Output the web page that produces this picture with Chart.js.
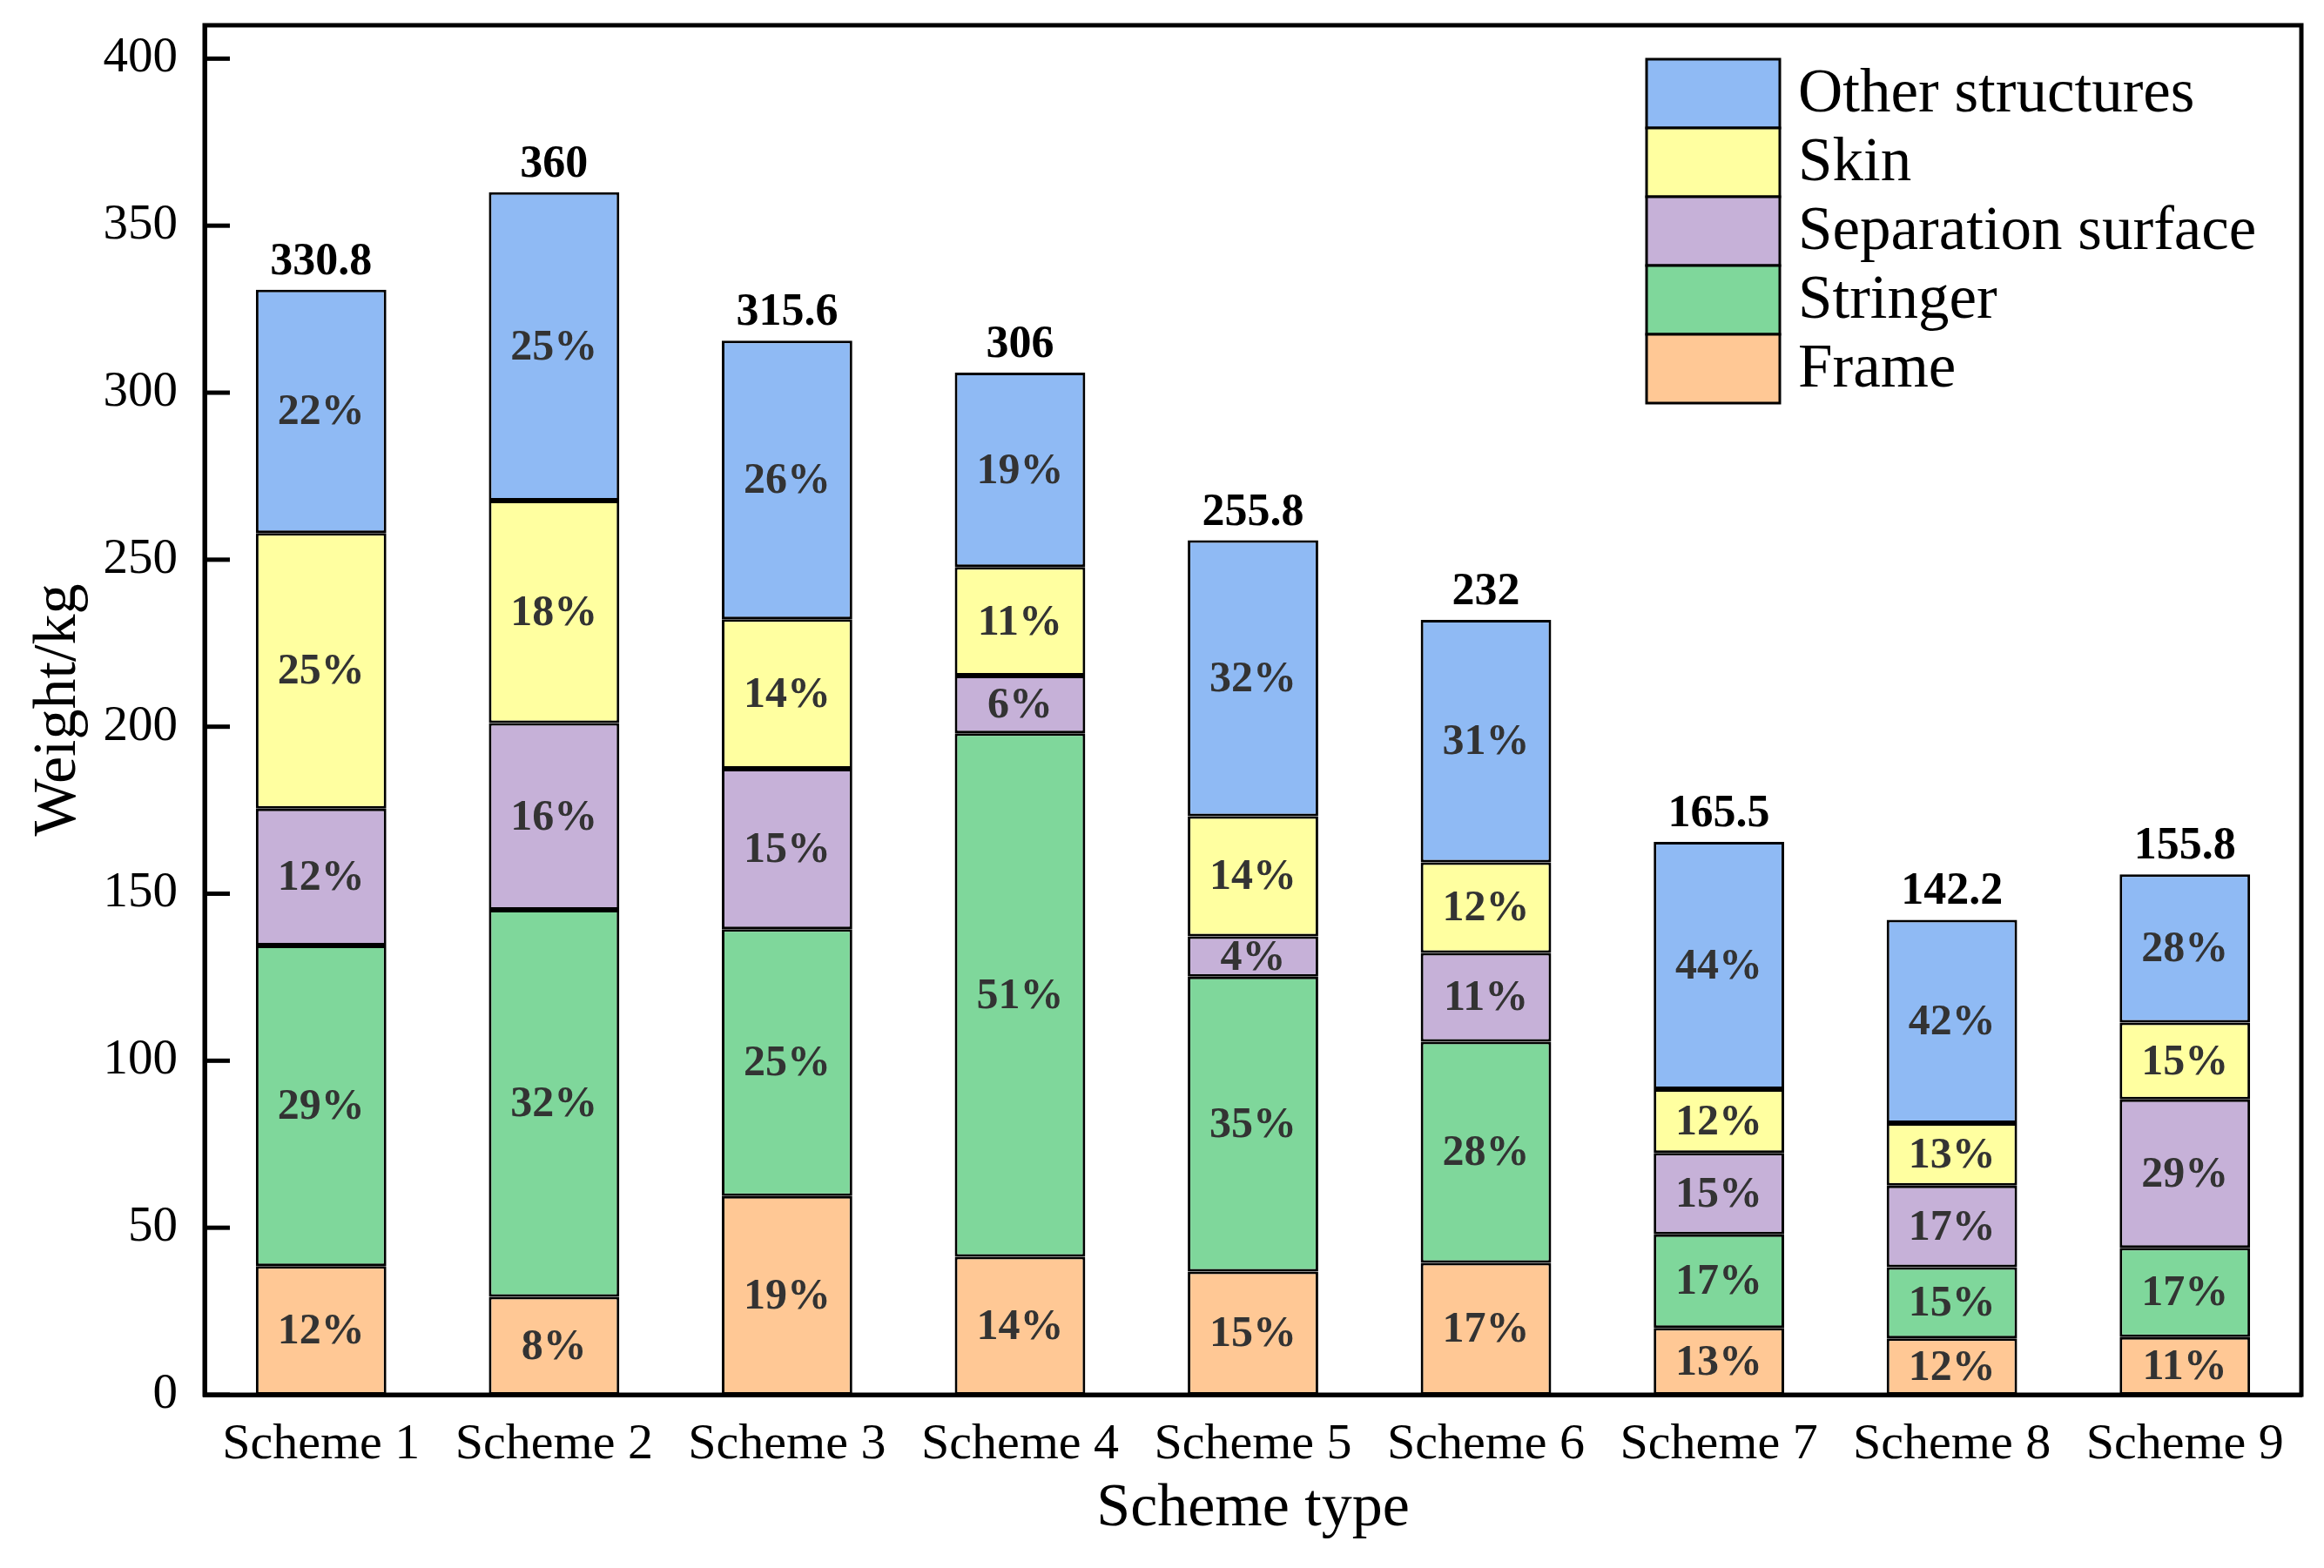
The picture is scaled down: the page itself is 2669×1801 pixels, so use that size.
<!DOCTYPE html>
<html><head><meta charset="utf-8">
<script src="https://cdn.jsdelivr.net/npm/chart.js@4/dist/chart.umd.min.js"></script>
<style>html,body{margin:0;padding:0;background:#fff;}canvas{display:block}</style>
</head><body>
<canvas id="c" width="2669" height="1801"></canvas>
<script>
const categories = ['Scheme 1','Scheme 2','Scheme 3','Scheme 4','Scheme 5','Scheme 6','Scheme 7','Scheme 8','Scheme 9'];
const seriesNames = ['Frame','Stringer','Separation surface','Skin','Other structures'];
const frameVals     = [38.5, 29.3, 59.5, 41.3, 36.9, 39.5, 20.0, 16.9, 17.3];
const stringerVals  = [96.0,115.9, 79.9,156.7, 88.3, 66.2, 28.0, 21.3, 26.7];
const separationVals= [41.0, 55.9, 48.0, 17.3, 12.0, 26.6, 24.4, 24.4, 44.4];
const skinVals      = [82.5, 66.6, 44.8, 32.5, 36.0, 27.1, 19.1, 18.7, 23.0];
const otherVals     = [72.8, 92.3, 83.4, 58.2, 82.6, 72.6, 74.0, 60.9, 44.4];
const framePct      = [12, 8, 19, 14, 15, 17, 13, 12, 11];
const stringerPct   = [29, 32, 25, 51, 35, 28, 17, 15, 17];
const separationPct = [12, 16, 15, 6, 4, 11, 15, 17, 29];
const skinPct       = [25, 18, 14, 11, 14, 12, 12, 13, 15];
const otherPct      = [22, 25, 26, 19, 32, 31, 44, 42, 28];
const totalLabels   = ['330.8','360','315.6','306','255.8','232','165.5','142.2','155.8'];
const yTicks        = [0, 50, 100, 150, 200, 250, 300, 350, 400];

const colors = ['#FFC895','#7FD79B','#C6B1D8','#FFFFA0','#8FBAF4'];
const valueSets = [frameVals, stringerVals, separationVals, skinVals, otherVals];
const pctSets = [framePct, stringerPct, separationPct, skinPct, otherPct];
const SERIF = '"Liberation Serif", "Times New Roman", serif';

const datasets = seriesNames.map((n, i) => ({
  label: n,
  data: valueSets[i],
  backgroundColor: colors[i],
  borderColor: '#000',
  borderWidth: 3,
  borderSkipped: false,
  pct: pctSets[i],
  categoryPercentage: 1.0,
  barPercentage: 0.56
}));

const decorPlugin = {
  id: 'decor',
  afterDatasetsDraw(chart) {
    const ctx = chart.ctx;
    const ca = chart.chartArea;
    ctx.save();
    // percent labels
    ctx.font = 'bold 50px ' + SERIF;
    ctx.fillStyle = '#333333';
    ctx.textAlign = 'center';
    ctx.textBaseline = 'middle';
    chart.data.datasets.forEach((ds, di) => {
      const meta = chart.getDatasetMeta(di);
      meta.data.forEach((el, j) => {
        const cy = (el.y + el.base) / 2;
        ctx.fillText(ds.pct[j] + '%', el.x, cy + 2);
      });
    });
    // totals
    const topMeta = chart.getDatasetMeta(chart.data.datasets.length - 1);
    ctx.font = 'bold 52px ' + SERIF;
    ctx.fillStyle = '#000';
    ctx.textBaseline = 'alphabetic';
    topMeta.data.forEach((el, j) => {
      ctx.fillText(totalLabels[j], el.x, el.y - 18);
    });
    // frame
    ctx.strokeStyle = '#000';
    ctx.lineWidth = 5;
    ctx.strokeRect(ca.left, ca.top, ca.right - ca.left, ca.bottom - ca.top);
    // inward y ticks
    const ys = chart.scales.y;
    ys.ticks.forEach(t => {
      const py = ys.getPixelForValue(t.value);
      ctx.beginPath();
      ctx.moveTo(ca.left, py);
      ctx.lineTo(ca.left + 29, py);
      ctx.stroke();
    });
    // legend
    const lx = 1891, ly = 68, bw = 153, bh = 79;
    ctx.font = '71px ' + SERIF;
    ctx.textAlign = 'left';
    ctx.textBaseline = 'middle';
    const order = [4, 3, 2, 1, 0];
    order.forEach((di, k) => {
      const ds = chart.data.datasets[di];
      const y = ly + k * bh;
      ctx.fillStyle = ds.backgroundColor;
      ctx.fillRect(lx, y, bw, bh);
      ctx.lineWidth = 3;
      ctx.strokeStyle = '#000';
      ctx.strokeRect(lx, y, bw, bh);
      ctx.fillStyle = '#000';
      ctx.fillText(ds.label, lx + bw + 21, y + bh / 2 + 2);
    });
    ctx.restore();
  }
};

new Chart(document.getElementById('c'), {
  type: 'bar',
  data: { labels: categories, datasets },
  options: {
    responsive: false,
    devicePixelRatio: 1,
    animation: false,
    layout: { padding: { left: 0, top: 29, right: 26, bottom: 0 } },
    plugins: { legend: { display: false }, tooltip: { enabled: false } },
    scales: {
      x: {
        stacked: true,
        grid: { display: false, drawTicks: false },
        border: { display: true, color: '#000', width: 5 },
        ticks: { color: '#000', font: { family: SERIF, size: 58 }, padding: 23, maxRotation: 0, autoSkip: false },
        title: { display: true, text: 'Scheme type', color: '#000', font: { family: SERIF, size: 70 }, padding: { top: 0, bottom: 25 } },
        afterFit(s) { s.height = 199; s.paddingLeft = 0; s.paddingRight = 0; }
      },
      y: {
        stacked: true,
        min: 0,
        max: 410,
        grid: { display: false, drawTicks: false },
        border: { display: true, color: '#000', width: 5 },
        afterBuildTicks(s) { s.ticks = yTicks.map(v => ({ value: v })); },
        ticks: { color: '#000', font: { family: SERIF, size: 57 }, padding: 31 },
        title: { display: true, text: 'Weight/kg', color: '#000', font: { family: SERIF, size: 70 }, padding: { top: 26, bottom: 0 } },
        afterFit(s) { s.width = 235; s.paddingTop = 0; s.paddingBottom = 0; }
      }
    }
  },
  plugins: [decorPlugin]
});
</script>
</body></html>
